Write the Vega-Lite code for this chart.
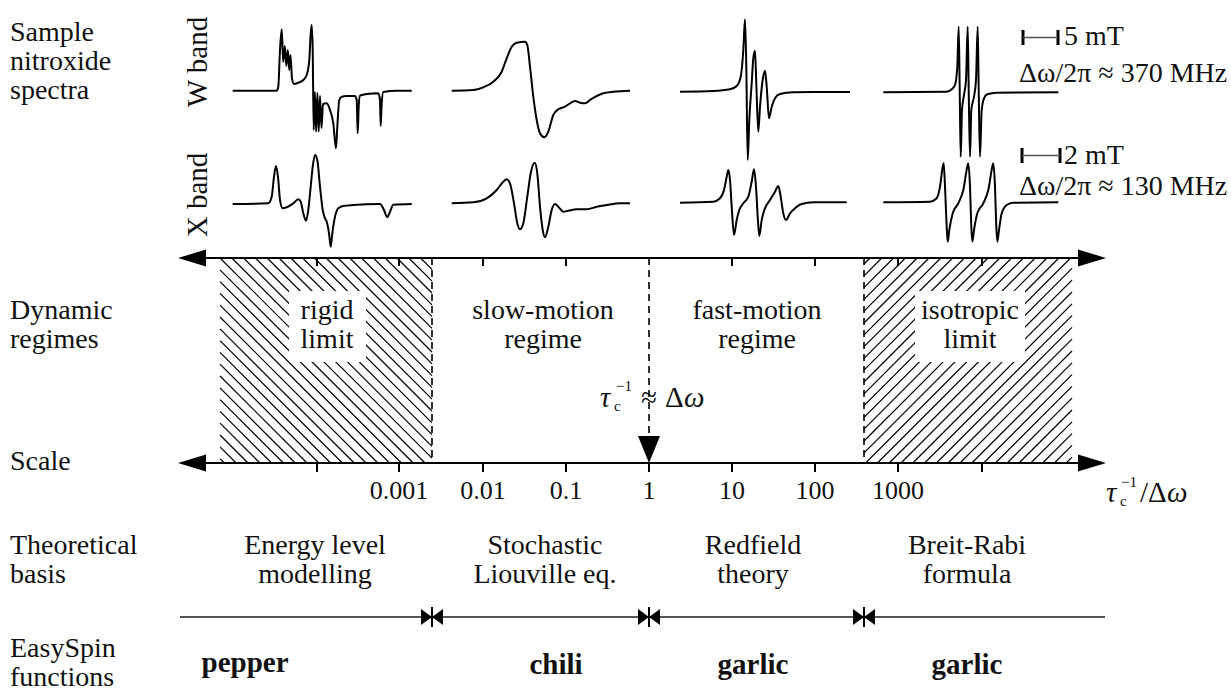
{
"$schema": "https://vega.github.io/schema/vega-lite/v6.json",
"width": 1231, "height": 693,
"autosize": {"type": "fit", "contains": "padding"},
"padding": 0,
"background": "white",
"config": {"view": {"stroke": null}},
"datasets": {
"hatch": [
{"x":220,"y":458.6,"x2":224.4,"y2":463},{"x":220,"y":446.8,"x2":236.2,"y2":463},{"x":220,"y":435,"x2":248,"y2":463},{"x":220,"y":423.2,"x2":259.8,"y2":463},{"x":220,"y":411.4,"x2":271.6,"y2":463},{"x":220,"y":399.6,"x2":283.4,"y2":463},{"x":220,"y":387.8,"x2":295.2,"y2":463},{"x":220,"y":376,"x2":307,"y2":463},{"x":220,"y":364.2,"x2":318.8,"y2":463},{"x":220,"y":352.4,"x2":330.6,"y2":463},{"x":220,"y":340.6,"x2":342.4,"y2":463},{"x":220,"y":328.8,"x2":354.2,"y2":463},{"x":220,"y":317,"x2":366,"y2":463},{"x":220,"y":305.2,"x2":377.8,"y2":463},{"x":220,"y":293.4,"x2":389.6,"y2":463},{"x":220,"y":281.6,"x2":401.4,"y2":463},{"x":220,"y":269.8,"x2":413.2,"y2":463},{"x":220,"y":258,"x2":425,"y2":463},
{"x":231.8,"y":258,"x2":432,"y2":458.2},{"x":243.6,"y":258,"x2":432,"y2":446.4},{"x":255.4,"y":258,"x2":432,"y2":434.6},{"x":267.2,"y":258,"x2":432,"y2":422.8},{"x":279,"y":258,"x2":432,"y2":411},{"x":290.8,"y":258,"x2":432,"y2":399.2},{"x":302.6,"y":258,"x2":432,"y2":387.4},{"x":314.4,"y":258,"x2":432,"y2":375.6},{"x":326.2,"y":258,"x2":432,"y2":363.8},{"x":338,"y":258,"x2":432,"y2":352},{"x":349.8,"y":258,"x2":432,"y2":340.2},{"x":361.6,"y":258,"x2":432,"y2":328.4},{"x":373.4,"y":258,"x2":432,"y2":316.6},{"x":385.2,"y":258,"x2":432,"y2":304.8},{"x":397,"y":258,"x2":432,"y2":293},{"x":408.8,"y":258,"x2":432,"y2":281.2},{"x":420.6,"y":258,"x2":432,"y2":269.4},
{"x":864,"y":264,"x2":870,"y2":258},{"x":864,"y":275.8,"x2":881.8,"y2":258},{"x":864,"y":287.6,"x2":893.6,"y2":258},{"x":864,"y":299.4,"x2":905.4,"y2":258},{"x":864,"y":311.2,"x2":917.2,"y2":258},{"x":864,"y":323,"x2":929,"y2":258},{"x":864,"y":334.8,"x2":940.8,"y2":258},{"x":864,"y":346.6,"x2":952.6,"y2":258},{"x":864,"y":358.4,"x2":964.4,"y2":258},{"x":864,"y":370.2,"x2":976.2,"y2":258},{"x":864,"y":382,"x2":988,"y2":258},{"x":864,"y":393.8,"x2":999.8,"y2":258},{"x":864,"y":405.6,"x2":1011.6,"y2":258},{"x":864,"y":417.4,"x2":1023.4,"y2":258},{"x":864,"y":429.2,"x2":1035.2,"y2":258},{"x":864,"y":441,"x2":1047,"y2":258},{"x":864,"y":452.8,"x2":1058.8,"y2":258},
{"x":865.6,"y":463,"x2":1070.6,"y2":258},{"x":877.4,"y":463,"x2":1072,"y2":268.4},{"x":889.2,"y":463,"x2":1072,"y2":280.2},{"x":901,"y":463,"x2":1072,"y2":292},{"x":912.8,"y":463,"x2":1072,"y2":303.8},{"x":924.6,"y":463,"x2":1072,"y2":315.6},{"x":936.4,"y":463,"x2":1072,"y2":327.4},{"x":948.2,"y":463,"x2":1072,"y2":339.2},{"x":960,"y":463,"x2":1072,"y2":351},{"x":971.8,"y":463,"x2":1072,"y2":362.8},{"x":983.6,"y":463,"x2":1072,"y2":374.6},{"x":995.4,"y":463,"x2":1072,"y2":386.4},{"x":1007.2,"y":463,"x2":1072,"y2":398.2},{"x":1019,"y":463,"x2":1072,"y2":410},{"x":1030.8,"y":463,"x2":1072,"y2":421.8},{"x":1042.6,"y":463,"x2":1072,"y2":433.6},{"x":1054.4,"y":463,"x2":1072,"y2":445.4},{"x":1066.2,"y":463,"x2":1072,"y2":457.2}
],
"boxes": [{"x":289,"x2":366,"y":291,"y2":362},{"x":915,"x2":1025,"y":291,"y2":362}],
"axislines": [{"x":200,"x2":1085,"y":258},{"x":200,"x2":1085,"y":463}],
"esline": [{"x":180,"x2":1105,"y":617}],
"ticks": [
{"x":317,"y":258,"y2":266},{"x":399,"y":258,"y2":266},{"x":483,"y":258,"y2":266},{"x":566,"y":258,"y2":266},{"x":732,"y":258,"y2":266},{"x":815,"y":258,"y2":266},{"x":898,"y":258,"y2":266},{"x":982,"y":258,"y2":266},
{"x":317,"y":463,"y2":472},{"x":399,"y":463,"y2":472},{"x":483,"y":463,"y2":472},{"x":566,"y":463,"y2":472},{"x":649,"y":463,"y2":472},{"x":732,"y":463,"y2":472},{"x":815,"y":463,"y2":472},{"x":898,"y":463,"y2":472},{"x":982,"y":463,"y2":472},
{"x":432,"y":607,"y2":627},{"x":649,"y":607,"y2":627},{"x":864,"y":607,"y2":627}
],
"bars": [{"x":1023,"y":30,"y2":45},{"x":1058,"y":30,"y2":45},{"x":1022,"y":148,"y2":163},{"x":1060,"y":148,"y2":163}],
"barlines": [{"x":1023,"x2":1058,"y":37.5},{"x":1022,"x2":1060,"y":155.5}],
"dashed": [{"x":432,"y":258,"y2":463},{"x":864,"y":258,"y2":463},{"x":649,"y":258,"y2":437}],
"triH": [
{"g":"LT","x":178,"y":258,"y2":258},{"g":"LT","x":206,"y":249.5,"y2":266.5},
{"g":"RT","x":1078,"y":249.5,"y2":266.5},{"g":"RT","x":1106,"y":258,"y2":258},
{"g":"LB","x":178,"y":463,"y2":463},{"g":"LB","x":206,"y":454.5,"y2":471.5},
{"g":"RB","x":1078,"y":454.5,"y2":471.5},{"g":"RB","x":1106,"y":463,"y2":463},
{"g":"B1","x":421,"y":609,"y2":625},{"g":"B1","x":432,"y":617,"y2":617},{"g":"B1","x":443,"y":609,"y2":625},
{"g":"B2","x":638,"y":609,"y2":625},{"g":"B2","x":649,"y":617,"y2":617},{"g":"B2","x":660,"y":609,"y2":625},
{"g":"B3","x":853,"y":609,"y2":625},{"g":"B3","x":864,"y":617,"y2":617},{"g":"B3","x":875,"y":609,"y2":625}
],
"triV": [{"y":436,"x":638,"x2":660},{"y":463,"x":649,"x2":649}],
"spectra": [
{"s":"W1","x":232.7,"y":90.7},{"s":"W1","x":276.7,"y":90.7},{"s":"W1","x":278.3,"y":86.7},{"s":"W1","x":280,"y":50},{"s":"W1","x":281.7,"y":29.3},{"s":"W1","x":283.2,"y":62},{"s":"W1","x":284.8,"y":46},{"s":"W1","x":286.3,"y":66},{"s":"W1","x":287.8,"y":50},{"s":"W1","x":289.2,"y":70},{"s":"W1","x":290.5,"y":55},{"s":"W1","x":292,"y":78.3},{"s":"W1","x":294,"y":84},{"s":"W1","x":298.3,"y":82.7},{"s":"W1","x":303.3,"y":80},{"s":"W1","x":306.7,"y":75},{"s":"W1","x":309.3,"y":60},{"s":"W1","x":310.7,"y":33.3},{"s":"W1","x":311.7,"y":25},{"s":"W1","x":312.7,"y":50},{"s":"W1","x":313.7,"y":130},{"s":"W1","x":314.9,"y":92},{"s":"W1","x":316.1,"y":131.7},{"s":"W1","x":317.4,"y":93},{"s":"W1","x":318.7,"y":131.7},{"s":"W1","x":320,"y":96},{"s":"W1","x":321.5,"y":128},{"s":"W1","x":323,"y":104},{"s":"W1","x":326.7,"y":103.3},{"s":"W1","x":330,"y":110},{"s":"W1","x":333.3,"y":123.3},{"s":"W1","x":336,"y":148.3},{"s":"W1","x":337.3,"y":126.7},{"s":"W1","x":339.3,"y":100},{"s":"W1","x":341.7,"y":96.7},{"s":"W1","x":346.7,"y":96},{"s":"W1","x":355,"y":96},{"s":"W1","x":356.7,"y":100},{"s":"W1","x":357.7,"y":133.3},{"s":"W1","x":358.7,"y":106.7},{"s":"W1","x":360,"y":95.7},{"s":"W1","x":366.7,"y":94},{"s":"W1","x":378.3,"y":93.3},{"s":"W1","x":380,"y":100},{"s":"W1","x":380.7,"y":126},{"s":"W1","x":381.7,"y":103.3},{"s":"W1","x":383.3,"y":92},{"s":"W1","x":396.7,"y":90.7},{"s":"W1","x":411.7,"y":90.7},
{"s":"X1","x":232.7,"y":204},{"s":"X1","x":268.3,"y":203.3},{"s":"X1","x":271.7,"y":196.7},{"s":"X1","x":274,"y":176.7},{"s":"X1","x":276,"y":166},{"s":"X1","x":278.3,"y":180},{"s":"X1","x":280,"y":200},{"s":"X1","x":282.7,"y":208.3},{"s":"X1","x":286.7,"y":207.3},{"s":"X1","x":293.3,"y":203.3},{"s":"X1","x":298.3,"y":199.3},{"s":"X1","x":300.7,"y":201.7},{"s":"X1","x":303.3,"y":213.3},{"s":"X1","x":306,"y":220.7},{"s":"X1","x":308.3,"y":210},{"s":"X1","x":310.7,"y":186.7},{"s":"X1","x":312.7,"y":166.7},{"s":"X1","x":315,"y":155},{"s":"X1","x":317.3,"y":160},{"s":"X1","x":320,"y":186.7},{"s":"X1","x":322.7,"y":210},{"s":"X1","x":325,"y":218.3},{"s":"X1","x":326.7,"y":221.7},{"s":"X1","x":329,"y":233.3},{"s":"X1","x":330.7,"y":246.7},{"s":"X1","x":332.3,"y":233.3},{"s":"X1","x":335,"y":216.7},{"s":"X1","x":338.3,"y":208.3},{"s":"X1","x":343.3,"y":206},{"s":"X1","x":353.3,"y":205},{"s":"X1","x":380,"y":204},{"s":"X1","x":384,"y":210},{"s":"X1","x":387.3,"y":217.3},{"s":"X1","x":390,"y":211.7},{"s":"X1","x":393.3,"y":204.7},{"s":"X1","x":411.7,"y":204},
{"s":"W2","x":451.7,"y":90.7},{"s":"W2","x":473.3,"y":90},{"s":"W2","x":483.3,"y":87.3},{"s":"W2","x":493.3,"y":81.7},{"s":"W2","x":501.7,"y":71.7},{"s":"W2","x":506.7,"y":58.3},{"s":"W2","x":511.7,"y":46.7},{"s":"W2","x":516.7,"y":42.7},{"s":"W2","x":525,"y":41.7},{"s":"W2","x":527.3,"y":45},{"s":"W2","x":530,"y":66.7},{"s":"W2","x":533.3,"y":96.7},{"s":"W2","x":536.7,"y":120},{"s":"W2","x":540,"y":133.3},{"s":"W2","x":544.3,"y":137.3},{"s":"W2","x":548.3,"y":131.7},{"s":"W2","x":553.3,"y":115},{"s":"W2","x":558.3,"y":109.3},{"s":"W2","x":565,"y":106.7},{"s":"W2","x":570,"y":103.3},{"s":"W2","x":575,"y":101},{"s":"W2","x":580,"y":102.7},{"s":"W2","x":585,"y":103.3},{"s":"W2","x":590,"y":100},{"s":"W2","x":596.7,"y":96},{"s":"W2","x":603.3,"y":93.3},{"s":"W2","x":613.3,"y":91.7},{"s":"W2","x":630,"y":90.7},
{"s":"X2","x":451.7,"y":203.3},{"s":"X2","x":473.3,"y":202.3},{"s":"X2","x":486.7,"y":198.3},{"s":"X2","x":496.7,"y":190},{"s":"X2","x":503.3,"y":181.7},{"s":"X2","x":506.7,"y":179.3},{"s":"X2","x":510,"y":183.3},{"s":"X2","x":514,"y":203.3},{"s":"X2","x":517.3,"y":223.3},{"s":"X2","x":520,"y":229.3},{"s":"X2","x":523.3,"y":223.3},{"s":"X2","x":527.3,"y":196.7},{"s":"X2","x":530.7,"y":173.3},{"s":"X2","x":534.7,"y":162.7},{"s":"X2","x":537.3,"y":173.3},{"s":"X2","x":540,"y":206.7},{"s":"X2","x":542.7,"y":230},{"s":"X2","x":545,"y":237.3},{"s":"X2","x":548.3,"y":226.7},{"s":"X2","x":551.7,"y":210},{"s":"X2","x":555,"y":204},{"s":"X2","x":558.3,"y":206.7},{"s":"X2","x":563.3,"y":211.7},{"s":"X2","x":568.3,"y":210.7},{"s":"X2","x":576.7,"y":209.3},{"s":"X2","x":586.7,"y":209.3},{"s":"X2","x":596.7,"y":206.7},{"s":"X2","x":606.7,"y":205},{"s":"X2","x":620,"y":203.3},{"s":"X2","x":630,"y":203.3},
{"s":"W3","x":680,"y":91.7},{"s":"W3","x":713.3,"y":91},{"s":"W3","x":730,"y":89.3},{"s":"W3","x":736.7,"y":86},{"s":"W3","x":740.7,"y":76.7},{"s":"W3","x":743.3,"y":50},{"s":"W3","x":745,"y":19.3},{"s":"W3","x":746.3,"y":66.7},{"s":"W3","x":747.7,"y":160},{"s":"W3","x":749.3,"y":120},{"s":"W3","x":751.7,"y":83.3},{"s":"W3","x":753.3,"y":58.3},{"s":"W3","x":755,"y":50.7},{"s":"W3","x":756.3,"y":83.3},{"s":"W3","x":758.3,"y":131.7},{"s":"W3","x":760,"y":106.7},{"s":"W3","x":762.7,"y":80},{"s":"W3","x":765,"y":70.7},{"s":"W3","x":766.7,"y":86.7},{"s":"W3","x":769,"y":118.3},{"s":"W3","x":771.7,"y":106.7},{"s":"W3","x":775,"y":98.3},{"s":"W3","x":780,"y":94},{"s":"W3","x":793.3,"y":92.3},{"s":"W3","x":813.3,"y":92},{"s":"W3","x":850,"y":92},
{"s":"X3","x":680,"y":202.7},{"s":"X3","x":713.3,"y":201.7},{"s":"X3","x":720,"y":198.3},{"s":"X3","x":724,"y":190},{"s":"X3","x":726.7,"y":176.7},{"s":"X3","x":728.3,"y":170},{"s":"X3","x":730,"y":180},{"s":"X3","x":731.7,"y":206.7},{"s":"X3","x":734,"y":235},{"s":"X3","x":736.7,"y":220},{"s":"X3","x":739.3,"y":210},{"s":"X3","x":743.3,"y":203.3},{"s":"X3","x":748.3,"y":196.7},{"s":"X3","x":751.7,"y":181.7},{"s":"X3","x":754,"y":169.3},{"s":"X3","x":756,"y":186.7},{"s":"X3","x":757.7,"y":216.7},{"s":"X3","x":759.3,"y":236},{"s":"X3","x":761.7,"y":220},{"s":"X3","x":765,"y":208.3},{"s":"X3","x":770,"y":200},{"s":"X3","x":775,"y":191.7},{"s":"X3","x":778.3,"y":186},{"s":"X3","x":780.7,"y":196.7},{"s":"X3","x":783.3,"y":213.3},{"s":"X3","x":786,"y":220},{"s":"X3","x":790,"y":213.3},{"s":"X3","x":795,"y":208.3},{"s":"X3","x":801.7,"y":204},{"s":"X3","x":813.3,"y":202.3},{"s":"X3","x":846.7,"y":202.3},
{"s":"W4","x":883.3,"y":92.3},{"s":"W4","x":946.7,"y":91.7},{"s":"W4","x":951.7,"y":89.3},{"s":"W4","x":955,"y":85},{"s":"W4","x":957.3,"y":66.7},{"s":"W4","x":958.7,"y":26.7},{"s":"W4","x":959.7,"y":90},{"s":"W4","x":960.7,"y":156.7},{"s":"W4","x":962,"y":110},{"s":"W4","x":964,"y":95},{"s":"W4","x":966,"y":80},{"s":"W4","x":967.7,"y":26.7},{"s":"W4","x":968.7,"y":90},{"s":"W4","x":970,"y":156.7},{"s":"W4","x":971.3,"y":110},{"s":"W4","x":974,"y":96.7},{"s":"W4","x":976,"y":80},{"s":"W4","x":977.7,"y":26.7},{"s":"W4","x":978.7,"y":90},{"s":"W4","x":980,"y":156.7},{"s":"W4","x":981.7,"y":110},{"s":"W4","x":984,"y":98.3},{"s":"W4","x":987.3,"y":94.3},{"s":"W4","x":996.7,"y":92.7},{"s":"W4","x":1058.3,"y":92.3},
{"s":"X4","x":883.3,"y":202.3},{"s":"X4","x":930,"y":201.7},{"s":"X4","x":936.7,"y":198.3},{"s":"X4","x":940,"y":186.7},{"s":"X4","x":942.7,"y":166.7},{"s":"X4","x":943.7,"y":163.3},{"s":"X4","x":945,"y":186.7},{"s":"X4","x":946.7,"y":226.7},{"s":"X4","x":947.7,"y":241.7},{"s":"X4","x":949.3,"y":230},{"s":"X4","x":952.7,"y":213.3},{"s":"X4","x":958.3,"y":203.3},{"s":"X4","x":963.3,"y":190},{"s":"X4","x":967.3,"y":166.7},{"s":"X4","x":968.3,"y":163.3},{"s":"X4","x":970,"y":186.7},{"s":"X4","x":971.3,"y":226.7},{"s":"X4","x":972.3,"y":241.7},{"s":"X4","x":974,"y":230},{"s":"X4","x":977.3,"y":213.3},{"s":"X4","x":983.3,"y":203.3},{"s":"X4","x":988.3,"y":190},{"s":"X4","x":992.3,"y":166.7},{"s":"X4","x":993.3,"y":163.3},{"s":"X4","x":995,"y":186.7},{"s":"X4","x":996.3,"y":226.7},{"s":"X4","x":997.3,"y":241.7},{"s":"X4","x":999,"y":230},{"s":"X4","x":1001.7,"y":213.3},{"s":"X4","x":1006.7,"y":205},{"s":"X4","x":1013.3,"y":202.7},{"s":"X4","x":1058.3,"y":202.3}
],
"leftText": [
{"t":"Sample","x":10,"y":33},{"t":"nitroxide","x":10,"y":62},{"t":"spectra","x":10,"y":91},
{"t":"Dynamic","x":10,"y":311},{"t":"regimes","x":10,"y":340},
{"t":"Scale","x":10,"y":462},
{"t":"Theoretical","x":10,"y":546},{"t":"basis","x":10,"y":575},
{"t":"EasySpin","x":10,"y":649},{"t":"functions","x":10,"y":678}
],
"centerText": [
{"t":"rigid","x":327,"y":311},{"t":"limit","x":327,"y":340},
{"t":"slow-motion","x":543,"y":311},{"t":"regime","x":543,"y":340},
{"t":"fast-motion","x":757,"y":311},{"t":"regime","x":757,"y":340},
{"t":"isotropic","x":970,"y":311},{"t":"limit","x":970,"y":340},
{"t":"Energy level","x":315,"y":546},{"t":"modelling","x":315,"y":575},
{"t":"Stochastic","x":545,"y":546},{"t":"Liouville eq.","x":545,"y":575},
{"t":"Redfield","x":753,"y":546},{"t":"theory","x":753,"y":575},
{"t":"Breit-Rabi","x":967,"y":546},{"t":"formula","x":967,"y":575}
],
"tickText": [
{"t":"0.001","x":399,"y":491},{"t":"0.01","x":483,"y":491},{"t":"0.1","x":566,"y":491},{"t":"1","x":649,"y":491},{"t":"10","x":732,"y":491},{"t":"100","x":815,"y":491},{"t":"1000","x":898,"y":491}
],
"boldText": [
{"t":"pepper","x":245,"y":663},{"t":"chili","x":556,"y":665},{"t":"garlic","x":753,"y":665},{"t":"garlic","x":967,"y":665}
],
"scaleText": [
{"t":"5 mT","x":1064,"y":37},{"t":"Δω/2π ≈ 370 MHz","x":1019,"y":74},{"t":"2 mT","x":1064,"y":156},{"t":"Δω/2π ≈ 130 MHz","x":1019,"y":187}
],
"bandText": [{"t":"W band","x":198,"y":62},{"t":"X band","x":198,"y":195}],
"mathNormal": [
{"t":"≈","x":641,"y":398},{"t":"Δ","x":665,"y":398},
{"t":"/Δ","x":1140,"y":493}
],
"mathItalic": [
{"t":"τ","x":600,"y":398},{"t":"ω","x":684,"y":398},
{"t":"τ","x":1106,"y":493},{"t":"ω","x":1167,"y":493}
],
"mathSmall": [
{"t":"c","x":614,"y":406},{"t":"−1","x":616,"y":386},
{"t":"c","x":1120,"y":501},{"t":"−1","x":1121,"y":482}
]
},
"encoding": {
"x": {"field":"x","type":"quantitative","scale":{"domain":[0,1231],"nice":false,"zero":false},"axis":null},
"y": {"field":"y","type":"quantitative","scale":{"domain":[0,693],"nice":false,"zero":false,"reverse":true},"axis":null}
},
"layer": [
{"data":{"name":"hatch"},"mark":{"type":"rule","color":"black","strokeWidth":1.2},
 "encoding":{"x2":{"field":"x2"},"y2":{"field":"y2"}}},
{"data":{"name":"boxes"},"mark":{"type":"rect","fill":"white"},
 "encoding":{"x2":{"field":"x2"},"y2":{"field":"y2"}}},
{"data":{"name":"dashed"},"mark":{"type":"rule","color":"black","strokeWidth":1.6,"strokeDash":[7,5]},
 "encoding":{"y2":{"field":"y2"}}},
{"data":{"name":"axislines"},"mark":{"type":"rule","color":"black","strokeWidth":2.2},
 "encoding":{"x2":{"field":"x2"}}},
{"data":{"name":"esline"},"mark":{"type":"rule","color":"#555555","strokeWidth":2.2},
 "encoding":{"x2":{"field":"x2"}}},
{"data":{"name":"ticks"},"mark":{"type":"rule","color":"black","strokeWidth":2},
 "encoding":{"y2":{"field":"y2"}}},
{"data":{"name":"bars"},"mark":{"type":"rule","color":"black","strokeWidth":3},
 "encoding":{"y2":{"field":"y2"}}},
{"data":{"name":"barlines"},"mark":{"type":"rule","color":"#555555","strokeWidth":1.3},
 "encoding":{"x2":{"field":"x2"}}},
{"data":{"name":"triH"},"mark":{"type":"area","color":"black","orient":"vertical"},
 "encoding":{"y2":{"field":"y2"},"detail":{"field":"g"}}},
{"data":{"name":"triV"},"mark":{"type":"area","color":"black","orient":"horizontal"},
 "encoding":{"x2":{"field":"x2"}}},
{"data":{"name":"spectra"},"mark":{"type":"line","color":"black","strokeWidth":2,"interpolate":"monotone"},
 "encoding":{"detail":{"field":"s"}}},
{"data":{"name":"leftText"},"mark":{"type":"text","font":"Liberation Serif, Times New Roman, Times, DejaVu Serif, serif","fontSize":28,"align":"left","baseline":"middle","color":"#111"},
 "encoding":{"text":{"field":"t"}}},
{"data":{"name":"centerText"},"mark":{"type":"text","font":"Liberation Serif, Times New Roman, Times, DejaVu Serif, serif","fontSize":28,"align":"center","baseline":"middle","color":"#111"},
 "encoding":{"text":{"field":"t"}}},
{"data":{"name":"tickText"},"mark":{"type":"text","font":"Liberation Serif, Times New Roman, Times, DejaVu Serif, serif","fontSize":26,"align":"center","baseline":"middle","color":"#111"},
 "encoding":{"text":{"field":"t"}}},
{"data":{"name":"boldText"},"mark":{"type":"text","font":"Liberation Serif, Times New Roman, Times, DejaVu Serif, serif","fontSize":29,"fontWeight":"bold","align":"center","baseline":"middle","color":"#111"},
 "encoding":{"text":{"field":"t"}}},
{"data":{"name":"scaleText"},"mark":{"type":"text","font":"Liberation Serif, Times New Roman, Times, DejaVu Serif, serif","fontSize":28,"align":"left","baseline":"middle","color":"#111"},
 "encoding":{"text":{"field":"t"}}},
{"data":{"name":"bandText"},"mark":{"type":"text","font":"Liberation Serif, Times New Roman, Times, DejaVu Serif, serif","fontSize":29,"align":"center","baseline":"middle","angle":270,"color":"#111"},
 "encoding":{"text":{"field":"t"}}},
{"data":{"name":"mathNormal"},"mark":{"type":"text","font":"Liberation Serif, Times New Roman, Times, DejaVu Serif, serif","fontSize":29,"align":"left","baseline":"middle","color":"#111"},
 "encoding":{"text":{"field":"t"}}},
{"data":{"name":"mathItalic"},"mark":{"type":"text","font":"Liberation Serif, Times New Roman, Times, DejaVu Serif, serif","fontSize":29,"fontStyle":"italic","align":"left","baseline":"middle","color":"#111"},
 "encoding":{"text":{"field":"t"}}},
{"data":{"name":"mathSmall"},"mark":{"type":"text","font":"Liberation Serif, Times New Roman, Times, DejaVu Serif, serif","fontSize":15,"align":"left","baseline":"middle","color":"#111"},
 "encoding":{"text":{"field":"t"}}}
]
}
